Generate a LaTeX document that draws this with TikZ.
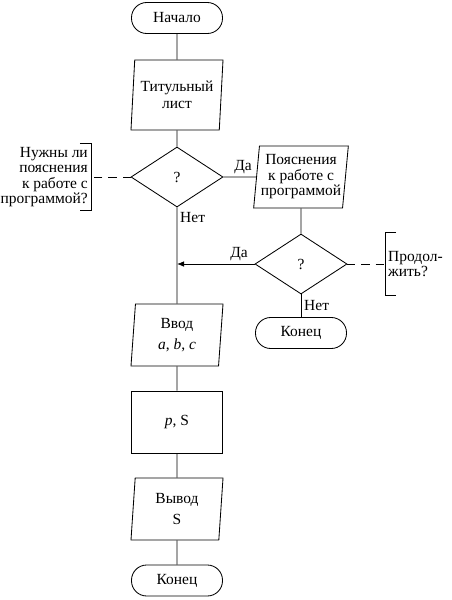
\documentclass[tikz,border=0pt]{standalone}
\usepackage{fontspec}
\setmainfont{Liberation Serif}
\newfontfamily\timesfont{Liberation Serif}
\usetikzlibrary{shapes.geometric, arrows.meta, positioning, calc}

\begin{document}
\begin{tikzpicture}[
  x=0.025cm, y=-0.025cm, line width=0.6pt,
  every node/.style={font=\timesfont\fontsize{11}{11}\selectfont},
  term/.style={rectangle, draw, rounded corners=0.38cm,
               minimum width=2.275cm, minimum height=0.775cm, inner sep=1pt},
  io/.style={trapezium, draw, trapezium left angle=83, trapezium right angle=97,
             trapezium stretches body, minimum width=2.3cm, minimum height=#1,
             inner sep=1pt, align=center},
  io/.default=1.55cm,
  proc/.style={rectangle, draw, minimum width=2.275cm, minimum height=1.55cm},
  cond/.style={diamond, draw, minimum width=2.3cm, minimum height=1.5cm, inner sep=0pt},
  note/.style={align=#1, inner sep=2pt},
  lbl/.style={inner sep=2pt},
  arr/.style={-{Latex[length=5pt, width=4pt]}},
  dashline/.style={dash pattern=on 5.7pt off 4.3pt},
]
  \useasboundingbox (0,0) rectangle (452,600);

  % main column
  \node[term] (start) at (177,18) {Начало};
  \node[io=1.75cm] (tit) at (177,95) {Титульный\\[1pt]лист};
  \node[cond] (q1) at (177,177) {?};
  \node[io] (vvod) at (177,335) {Ввод\\[4pt]\textit{a}, \textit{b}, \textit{c}};
  \node[proc] (calc) at (177,422) {\textit{p}, S};
  \node[io] (vyvod) at (177,509) {Вывод\\[4pt]S};
  \node[term] (end1) at (177,580.5) {Конец};

  % side branch
  \node[io] (expl) at (301,177) {Пояснения\\к работе с\\программой};
  \node[cond] (q2) at (301,264) {?};
  \node[term] (end2) at (301,333) {Конец};

  % comments
  \node[note=right, anchor=east, minimum height=1.6cm] (note1) at (91,177)
    {Нужны ли\\пояснения\\к работе с\\программой?};
  \node[note=left, anchor=west, minimum height=1.55cm] (note2) at (385,264)
    {Продол-\\жить?};
  \draw ([xshift=-0.28cm]note1.north east) -- (note1.north east)
     -- (note1.south east) -- ([xshift=-0.28cm]note1.south east);
  \draw ([xshift=0.28cm]note2.north west) -- (note2.north west)
     -- (note2.south west) -- ([xshift=0.28cm]note2.south west);
  \draw[dashline] (q1.west) -- (note1.east);
  \draw[dashline] (q2.east) -- (note2.west);

  % connectors
  \draw (start) -- (tit);
  \draw (tit) -- (q1);
  \draw (q1.east) -- node[lbl, above, pos=0.6] {Да} (expl.west);
  \draw (expl) -- (q2);
  \draw (q2.south) -- node[lbl, right, pos=0.5] {Нет} (end2.north);
  \draw[arr] (q2.west) -- node[lbl, above, pos=0.2] {Да} (q1 |- q2.west);
  \draw (q1.south) -- node[lbl, right, pos=0.1] {Нет} (vvod.north);
  \draw (vvod) -- (calc);
  \draw (calc) -- (vyvod);
  \draw (vyvod) -- (end1);
\end{tikzpicture}
\end{document}
